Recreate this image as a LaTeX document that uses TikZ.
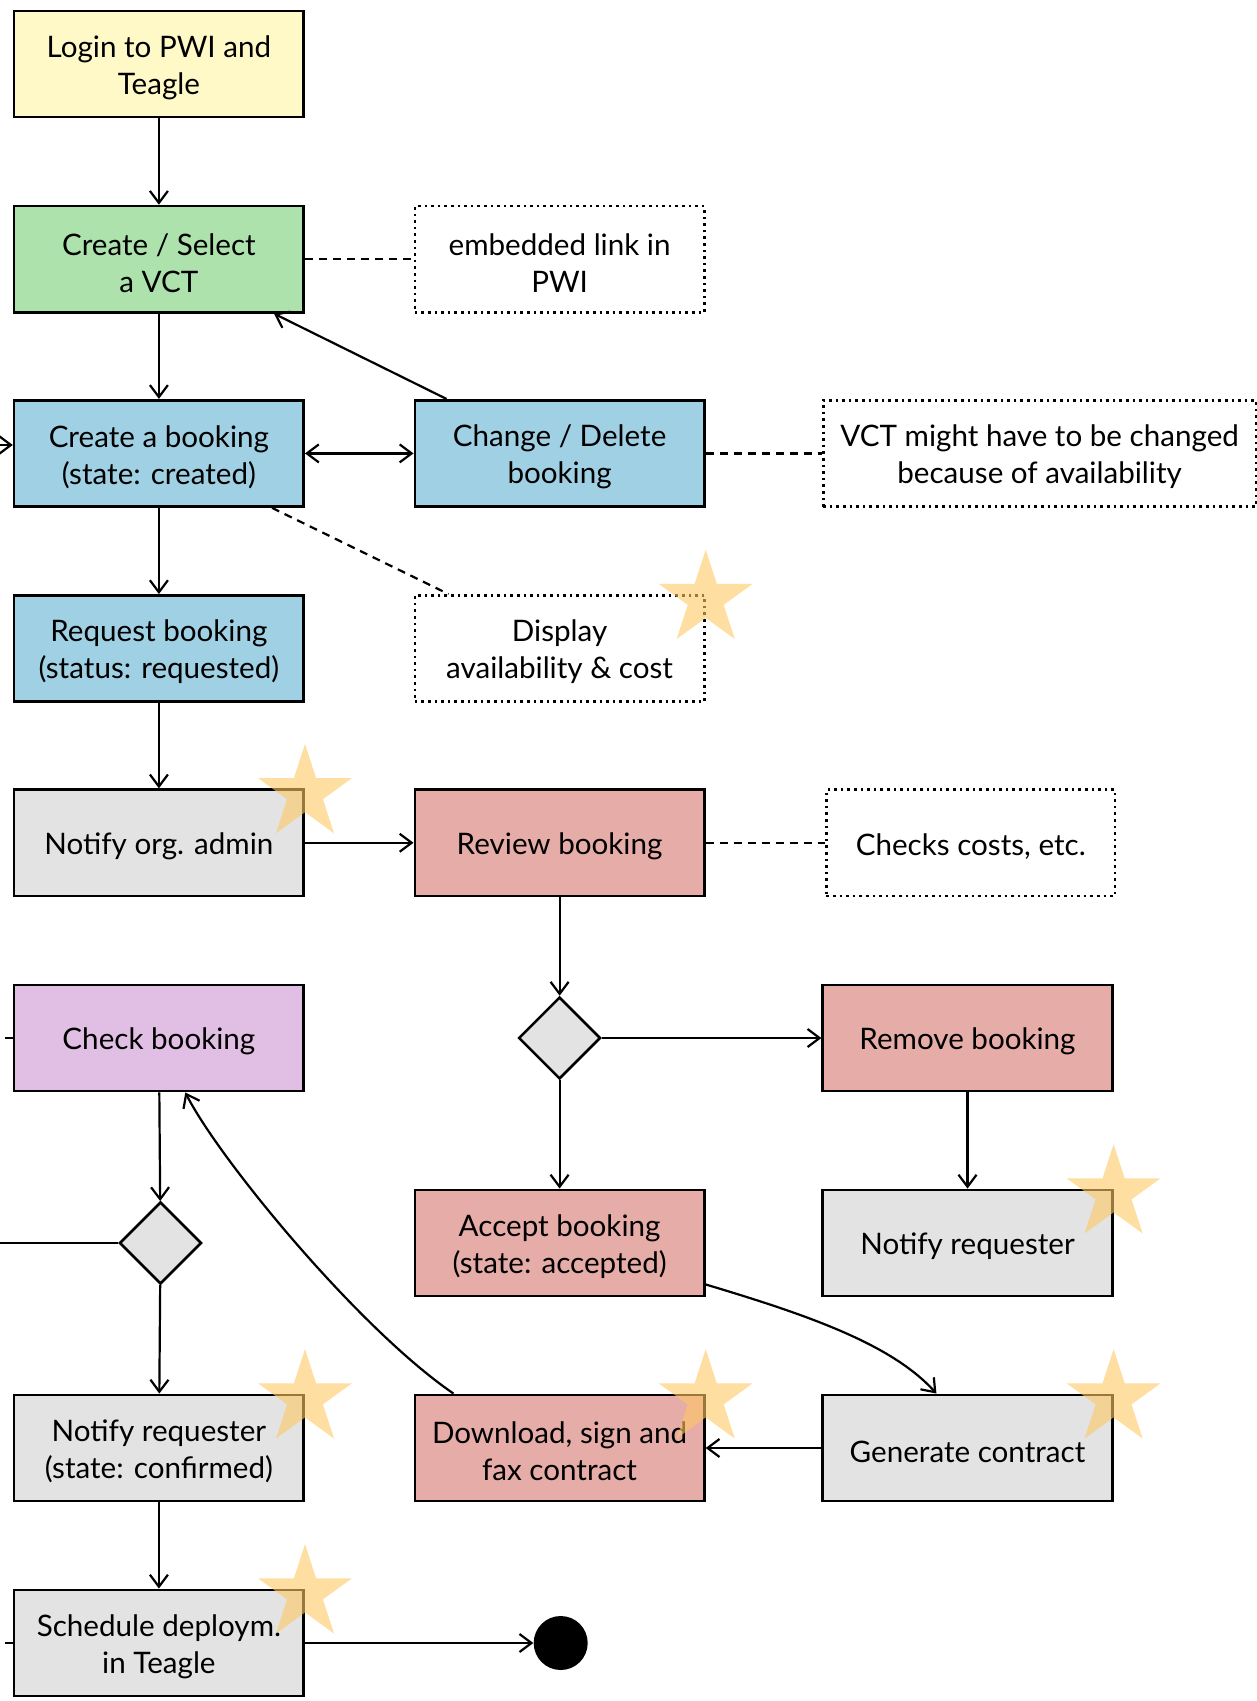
\documentclass[tikz,border=0pt]{standalone}
\usepackage{fontspec}
\setmainfont{Lato}
\usetikzlibrary{shapes.geometric,calc,arrows.meta}
\definecolor{cyellow}{RGB}{255,249,199}
\definecolor{cgreen}{RGB}{173,226,173}
\definecolor{cblue}{RGB}{160,208,227}
\definecolor{cgrey}{RGB}{227,227,227}
\definecolor{cred}{RGB}{230,172,168}
\definecolor{cpurple}{RGB}{225,190,227}
\definecolor{cstar}{RGB}{255,200,100}
\begin{document}
\begin{tikzpicture}[x=0.5pt,y=-0.5pt,
  box/.style={draw=black, line width=1.3pt, minimum width=144.8pt, minimum height=53.15pt, inner sep=0pt},
  lbl/.style={align=center, font=\fontsize{14.8}{18.5}\selectfont, inner sep=0pt, yshift=-1.8pt},
  note/.style={box, dotted, fill=white},
  dia/.style={diamond, draw=black, fill=cgrey, line width=1.3pt, minimum width=41pt, minimum height=41pt, inner sep=0pt},
  arr/.style={-{Straight Barb[length=6pt,width=9pt]}, line width=1.1pt},
  darr/.style={{Straight Barb[length=6pt,width=9pt]}-{Straight Barb[length=6pt,width=9pt]}, line width=1.1pt},
  plain/.style={line width=1.1pt},
  dsh/.style={dash pattern=on 4pt off 3pt, line width=1.1pt},
  starmark/.style={star, star points=5, star point ratio=2.618, minimum size=49.4pt, inner sep=0pt, fill=cstar, fill opacity=0.6, draw=none}
]
\useasboundingbox (0,0) rectangle (1257,1701);

% column 1
\node[box, fill=cyellow, label={[lbl]center:{Login to PWI and\\Teagle}}] (login) at (158.9,64) {};
\node[box, fill=cgreen, label={[lbl]center:{Create / Select\\a VCT}}] (vct) at (158.9,259.2) {};
\node[box, fill=cblue, label={[lbl]center:{Create a booking\\(state: created)}}] (create) at (158.9,453.4) {};
\node[box, fill=cblue, label={[lbl]center:{Request booking\\(status: requested)}}] (req) at (158.9,648.5) {};
\node[box, fill=cgrey, label={[lbl]center:{Notify org. admin}}] (notify) at (158.9,842.8) {};
\node[box, fill=cpurple, label={[lbl]center:{Check booking}}] (check) at (158.9,1038) {};
\node[dia] (d2) at (160.5,1243) {};
\node[box, fill=cgrey, label={[lbl]center:{Notify requester\\(state: confirmed)}}] (nreqc) at (158.9,1448) {};
\node[box, fill=cgrey, label={[lbl]center:{Schedule deploym.\\in Teagle}}] (sched) at (158.9,1643) {};

% column 2
\node[note, label={[lbl]center:{embedded link in\\PWI}}] (note1) at (559.6,259.2) {};
\node[box, fill=cblue, label={[lbl]center:{Change / Delete\\booking}}] (chg) at (559.6,453.4) {};
\node[note, label={[lbl]center:{Display\\availability \& cost}}] (disp) at (559.6,648.5) {};
\node[box, fill=cred, label={[lbl]center:{Review booking}}] (review) at (559.6,842.8) {};
\node[dia] (d1) at (559.6,1038) {};
\node[box, fill=cred, label={[lbl]center:{Accept booking\\(state: accepted)}}] (accept) at (559.6,1243) {};
\node[box, fill=cred, label={[lbl]center:{Download, sign and\\fax contract}}] (dl) at (559.6,1448) {};
\node[circle, fill=black, minimum size=27pt, inner sep=0pt] (endc) at (560.7,1643) {};

% column 3
\node[note, minimum width=216.4pt, label={[lbl]center:{VCT might have to be changed\\because of availability}}] (note2) at (1039.6,453.4) {};
\node[note, minimum width=144.3pt, label={[lbl]center:{Checks costs, etc.}}] (note3) at (970.7,842.8) {};
\node[box, fill=cred, label={[lbl]center:{Remove booking}}] (remove) at (967.5,1038) {};
\node[box, fill=cgrey, label={[lbl]center:{Notify requester}}] (notreq) at (967.5,1243) {};
\node[box, fill=cgrey, label={[lbl]center:{Generate contract}}] (gen) at (967.5,1448) {};

% connectors
\draw[arr] (login) -- (vct);
\draw[dsh] (vct) -- (note1);
\draw[arr] (vct) -- (create);
\coordinate (c4a) at ($(chg.north west)+(33,0)$);
\coordinate (c4b) at ($(vct.south east)+(-31,0)$);
\draw[arr] (c4a) -- (c4b);
\draw[darr] (create) -- (chg);
\draw[dsh] (chg) -- (note2);
\coordinate (c7a) at ($(create.south east)+(-33,0)$);
\coordinate (c7b) at ($(disp.north west)+(35,0)$);
\draw[dsh] (c7a) -- (c7b);
\coordinate (inL) at (0,445);
\draw[arr] (inL) -- (create.west |- inL);
\draw[arr] (create) -- (req);
\draw[arr] (req) -- (notify);
\draw[arr] (notify) -- (review);
\draw[dsh] (review) -- (note3);
\draw[arr] (review) -- (d1);
\draw[arr] (d1) -- (remove);
\draw[arr] (d1) -- (accept);
\draw[arr] (remove) -- (notreq);
\coordinate (c17a) at ($(accept.south east)+(0,-13)$);
\coordinate (c17b) at ($(gen.north west)+(115,0)$);
\draw[arr] (c17a) .. controls +(100,30) and +(-45,-50) .. (c17b);
\draw[arr] (gen) -- (dl);
\coordinate (c19a) at ($(dl.north west)+(40,0)$);
\coordinate (c19b) at ($(check.south west)+(172.5,0)$);
\draw[arr] (c19a) .. controls +(-95,-65) and +(34,67) .. (c19b);
\coordinate (chkL) at (0,1038);
\draw[dsh] (check.west) -- (chkL);
\draw[arr] (check) -- (d2);
\coordinate (d2L) at (0,1243);
\draw[plain] (d2.west) -- (d2L);
\draw[arr] (d2) -- (nreqc);
\draw[arr] (nreqc) -- (sched);
\coordinate (schL) at (0,1643);
\draw[dsh] (sched.west) -- (schL);
\draw[arr] (sched) -- (endc);

% stars
\node[starmark] (s1) at ($(disp.north east)+(0,5)$) {};
\node[starmark] (s2) at ($(notify.north east)+(0,5)$) {};
\node[starmark] (s3) at ($(notreq.north east)+(0,5)$) {};
\node[starmark] (s4) at ($(dl.north east)+(0,5)$) {};
\node[starmark] (s5) at ($(gen.north east)+(0,5)$) {};
\node[starmark] (s6) at ($(nreqc.north east)+(0,5)$) {};
\node[starmark] (s7) at ($(sched.north east)+(0,5)$) {};
\end{tikzpicture}
\end{document}
